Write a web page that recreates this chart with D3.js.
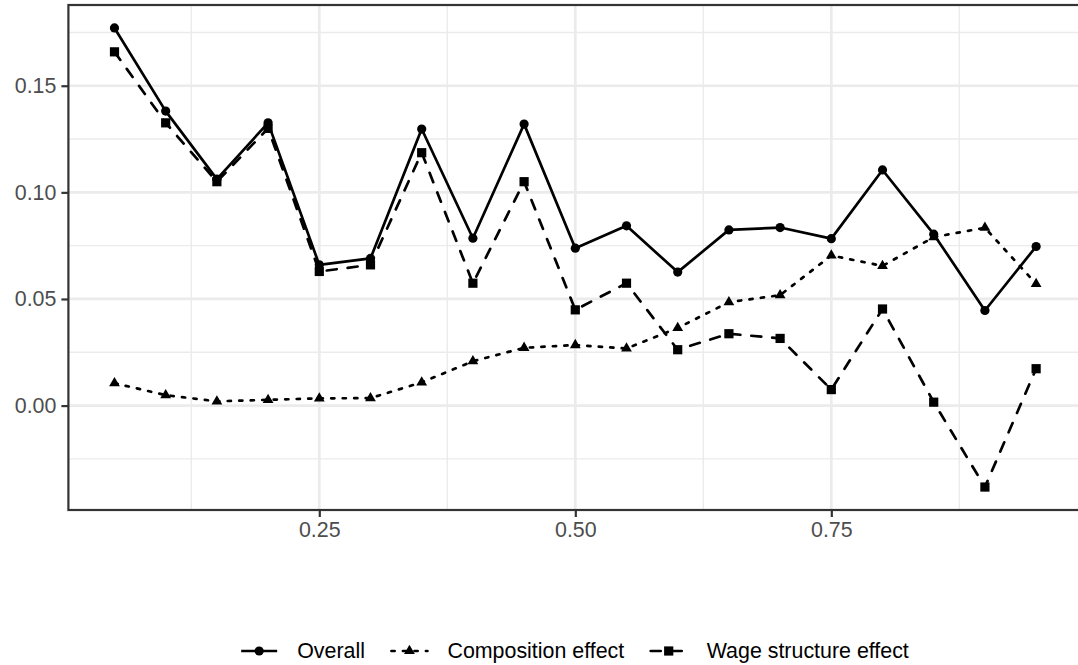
<!DOCTYPE html>
<html>
<head>
<meta charset="utf-8">
<script src="https://cdn.jsdelivr.net/npm/d3@7"></script>
<style>
  html, body { margin: 0; padding: 0; background: #ffffff; }
  svg { display: block; }
  text { font-family: "Liberation Sans", Arial, Helvetica, sans-serif; }
</style>
</head>
<body>
<svg id="chart" width="1078" height="665"></svg>
<script>
// Quantiles at which the decomposition is evaluated
const quantiles = [0.05, 0.10, 0.15, 0.20, 0.25, 0.30, 0.35, 0.40, 0.45, 0.50,
                   0.55, 0.60, 0.65, 0.70, 0.75, 0.80, 0.85, 0.90, 0.95];

// Series values
const overall = [0.1771, 0.1381, 0.1062, 0.1326, 0.0660, 0.0690, 0.1297, 0.0785, 0.1320, 0.0738,
                 0.0843, 0.0626, 0.0824, 0.0835, 0.0783, 0.1105, 0.0804, 0.0446, 0.0746];
const composition = [0.0105, 0.0049, 0.0020, 0.0027, 0.0034, 0.0035, 0.0109, 0.0208, 0.0271, 0.0284,
                     0.0268, 0.0364, 0.0485, 0.0518, 0.0704, 0.0655, 0.0790, 0.0834, 0.0571];
const wageStructure = [0.1659, 0.1326, 0.1050, 0.1300, 0.0629, 0.0660, 0.1186, 0.0574, 0.1050, 0.0449,
                       0.0574, 0.0262, 0.0337, 0.0315, 0.0075, 0.0453, 0.0016, -0.0382, 0.0173];

const seriesNames = ["Overall", "Composition effect", "Wage structure effect"];

// Axis ticks and labels
const xBreaks = [0.25, 0.50, 0.75];
const xMinor = [0.125, 0.375, 0.625, 0.875];
const xTickLabels = ["0.25", "0.50", "0.75"];
const yBreaks = [0.00, 0.05, 0.10, 0.15];
const yMinor = [-0.025, 0.025, 0.075, 0.125, 0.175];
const yTickLabels = ["0.00", "0.05", "0.10", "0.15"];

const series = [
  { name: seriesNames[0], values: overall,       dash: null,      shape: "circle"   },
  { name: seriesNames[1], values: composition,   dash: "3.2,8.3", shape: "triangle" },
  { name: seriesNames[2], values: wageStructure, dash: "10,11",   shape: "square"   }
];

const svg = d3.select("#chart");
const fontSize = 21.4;
const lineW = 2.7;

// Panel geometry
const panel = { left: 68.4, top: 5, right: 1082.2, bottom: 510 };

// ggplot-style 5% expansion of the data range
function expanded(ext) {
  const pad = (ext[1] - ext[0]) * 0.05;
  return [ext[0] - pad, ext[1] + pad];
}
const allY = overall.concat(composition, wageStructure);
const x = d3.scaleLinear().domain(expanded(d3.extent(quantiles))).range([panel.left, panel.right]);
const y = d3.scaleLinear().domain(expanded(d3.extent(allY))).range([panel.bottom, panel.top]);

const g = svg.append("g");

// Panel background
g.append("rect")
  .attr("x", panel.left).attr("y", panel.top)
  .attr("width", panel.right - panel.left).attr("height", panel.bottom - panel.top)
  .attr("fill", "#ffffff");

// Minor grid
const grid = g.append("g").attr("stroke", "#EBEBEB");
grid.selectAll(".ymin").data(yMinor).join("line")
  .attr("x1", panel.left).attr("x2", panel.right)
  .attr("y1", d => y(d)).attr("y2", d => y(d))
  .attr("stroke-width", 1.4);
grid.selectAll(".xmin").data(xMinor).join("line")
  .attr("y1", panel.top).attr("y2", panel.bottom)
  .attr("x1", d => x(d)).attr("x2", d => x(d))
  .attr("stroke-width", 1.4);
// Major grid
grid.selectAll(".ymaj").data(yBreaks).join("line")
  .attr("x1", panel.left).attr("x2", panel.right)
  .attr("y1", d => y(d)).attr("y2", d => y(d))
  .attr("stroke-width", 2.7);
grid.selectAll(".xmaj").data(xBreaks).join("line")
  .attr("y1", panel.top).attr("y2", panel.bottom)
  .attr("x1", d => x(d)).attr("x2", d => x(d))
  .attr("stroke-width", 2.7);

// Lines
const line = d3.line().x((d, i) => x(quantiles[i])).y(d => y(d));
series.forEach(s => {
  g.append("path")
    .attr("d", line(s.values))
    .attr("fill", "none")
    .attr("stroke", "#000000")
    .attr("stroke-width", lineW)
    .attr("stroke-linecap", s.dash ? "round" : "butt")
    .attr("stroke-linejoin", "round")
    .attr("stroke-dasharray", s.dash);
});

// Point shapes
function drawShape(sel, shape, cx, cy) {
  if (shape === "circle") {
    sel.append("circle").attr("cx", cx).attr("cy", cy).attr("r", 4.6).attr("fill", "#000");
  } else if (shape === "square") {
    sel.append("rect").attr("x", cx - 4.6).attr("y", cy - 4.6)
      .attr("width", 9.2).attr("height", 9.2).attr("fill", "#000");
  } else {
    const r = 6.2, h = 5.4;
    sel.append("path")
      .attr("d", `M${cx},${cy - r}L${cx + h},${cy + r / 2}L${cx - h},${cy + r / 2}Z`)
      .attr("fill", "#000");
  }
}
series.forEach(s => {
  const pg = g.append("g");
  s.values.forEach((v, i) => drawShape(pg, s.shape, x(quantiles[i]), y(v)));
});

// Panel border
g.append("rect")
  .attr("x", panel.left).attr("y", panel.top)
  .attr("width", panel.right - panel.left).attr("height", panel.bottom - panel.top)
  .attr("fill", "none").attr("stroke", "#333333").attr("stroke-width", 2.2);

// Axes
const xAxis = d3.axisBottom(x).tickValues(xBreaks)
  .tickFormat((d, i) => xTickLabels[i]).tickSize(7).tickPadding(5);
const yAxis = d3.axisLeft(y).tickValues(yBreaks)
  .tickFormat((d, i) => yTickLabels[i]).tickSize(7).tickPadding(5);

const xa = svg.append("g").attr("transform", `translate(0,${panel.bottom})`).call(xAxis);
const ya = svg.append("g").attr("transform", `translate(${panel.left},0)`).call(yAxis);
[xa, ya].forEach(a => {
  a.select(".domain").remove();
  a.selectAll(".tick line").attr("stroke", "#333333").attr("stroke-width", 2.2);
  a.selectAll(".tick text").attr("fill", "#4D4D4D")
    .style("font-size", fontSize + "px")
    .style("font-family", "'Liberation Sans', Arial, sans-serif");
});

// Legend, laid out horizontally and centred under the plot
const legendY = 651;
const keyW = 36, keyGap = 20, itemGap = 26.5;
const legend = svg.append("g");
const items = series.map(s => {
  const t = legend.append("text")
    .text(s.name)
    .attr("font-size", fontSize)
    .attr("fill", "#000000")
    .attr("dominant-baseline", "central");
  return { s, t, w: t.node().getComputedTextLength() };
});
const totalW = d3.sum(items, d => keyW + keyGap + d.w) + itemGap * (items.length - 1);
let cursor = 575 - totalW / 2;
items.forEach(it => {
  legend.append("line")
    .attr("x1", cursor).attr("x2", cursor + keyW)
    .attr("y1", legendY).attr("y2", legendY)
    .attr("stroke", "#000").attr("stroke-width", lineW)
    .attr("stroke-linecap", it.s.dash ? "round" : "butt")
    .attr("stroke-dasharray", it.s.dash);
  drawShape(legend, it.s.shape, cursor + keyW / 2, legendY);
  it.t.attr("x", cursor + keyW + keyGap).attr("y", legendY);
  cursor += keyW + keyGap + it.w + itemGap;
});
</script>
</body>
</html>
